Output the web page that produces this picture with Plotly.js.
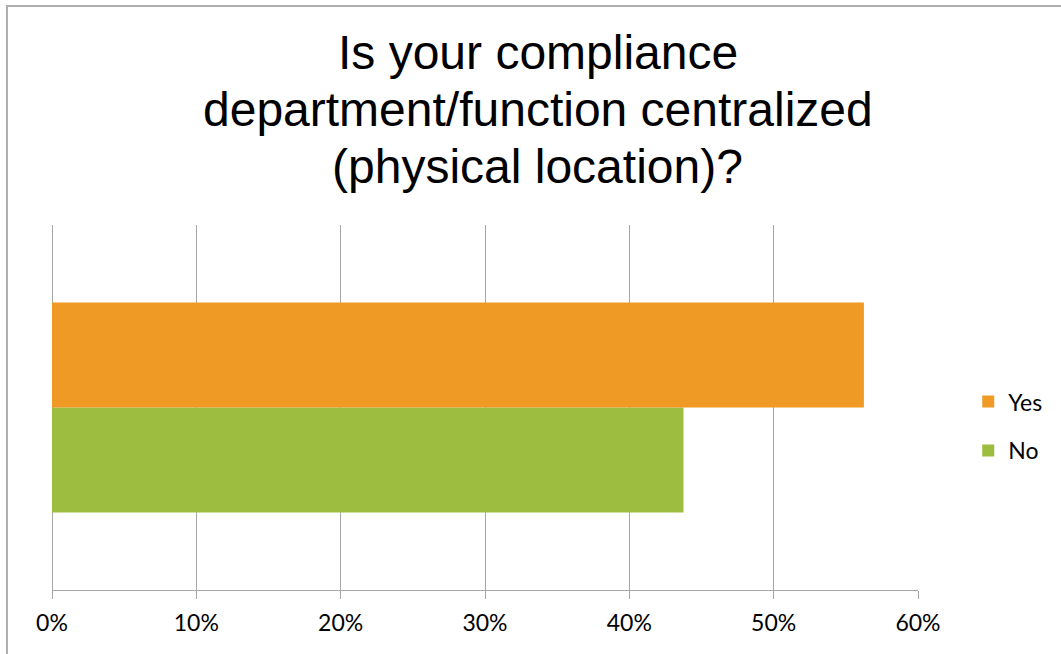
<!DOCTYPE html>
<html>
<head>
<meta charset="utf-8">
<script src="https://cdn.plot.ly/plotly-3.0.1.min.js"></script>
<style>html,body{margin:0;padding:0;background:#fff;}#chart{width:1061px;height:654px;}</style>
</head>
<body>
<div id="chart"></div>
<script>
const titleLines = ["Is your compliance", "department/function centralized", "(physical location)?"];
const category = ["Centralized"];
const seriesNames = ["Yes", "No"];
const yesValues = [0.5625];
const noValues = [0.4375];
const xTicks = [0, 0.1, 0.2, 0.3, 0.4, 0.5, 0.6];
const xTickLabels = ["0%", "10%", "20%", "30%", "40%", "50%", "60%"];
const colors = {Yes: "#EE9A25", No: "#9CBD3F"};

const traces = [
  {type: "bar", orientation: "h", name: seriesNames[1], x: noValues, y: category,
   marker: {color: colors.No}, legendgroup: "b", legendrank: 2, hoverinfo: "x+name"},
  {type: "bar", orientation: "h", name: seriesNames[0], x: yesValues, y: category,
   marker: {color: colors.Yes}, legendgroup: "a", legendrank: 1, hoverinfo: "x+name"}
];

const lineCenters = [1.473, 1.317, 1.161];
const annotations = titleLines.map((t, i) => ({
  text: t, xref: "paper", yref: "paper", x: 0.561, y: lineCenters[i],
  xanchor: "center", yanchor: "middle", showarrow: false,
  font: {family: "Liberation Sans, Arial, sans-serif", size: 48, color: "#000"}
}));

const layout = {
  width: 1061, height: 654,
  margin: {l: 52, r: 143, t: 225, b: 64, pad: 0},
  paper_bgcolor: "#fff", plot_bgcolor: "#fff",
  barmode: "group", bargap: 0.425, bargroupgap: 0,
  showlegend: true,
  legend: {x: 1.058, xanchor: "left", y: 0.449, yanchor: "middle",
    traceorder: "grouped", tracegroupgap: 16,
    font: {family: "Lato, sans-serif", size: 23, color: "#000"}},
  xaxis: {range: [0, 0.6], tickvals: xTicks, ticktext: xTickLabels,
    showgrid: true, gridcolor: "#A6A6A6", gridwidth: 1,
    zeroline: true, zerolinecolor: "#A6A6A6", zerolinewidth: 1,
    showline: true, linecolor: "#A6A6A6", linewidth: 1,
    ticks: "outside", ticklen: 8, tickcolor: "#A6A6A6", tickwidth: 1,
    ticklabelstandoff: 4,
    tickfont: {family: "Lato, sans-serif", size: 23, color: "#000"},
    fixedrange: true},
  yaxis: {showticklabels: false, showgrid: false, zeroline: false, showline: false,
    ticks: "", fixedrange: true},
  annotations: annotations,
  shapes: [{type: "rect", xref: "paper", yref: "paper",
    x0: -0.052, x1: 1.3, y0: -0.4, y1: 1.6,
    line: {color: "#ADADAD", width: 2}, fillcolor: "rgba(0,0,0,0)", layer: "below"}]
};

Plotly.newPlot("chart", traces, layout, {displayModeBar: false, staticPlot: true});
</script>
</body>
</html>
